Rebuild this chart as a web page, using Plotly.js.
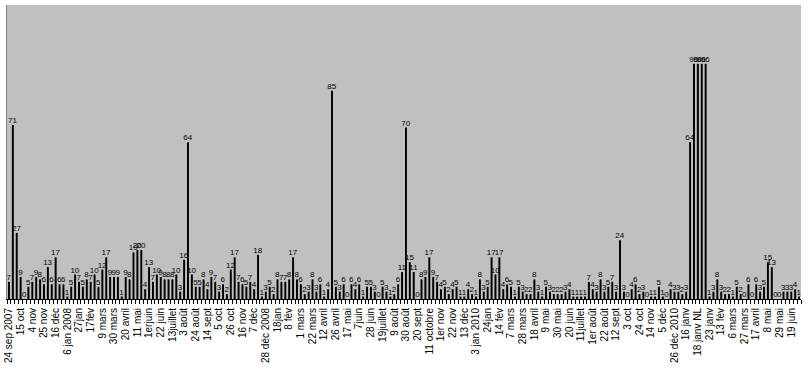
<!DOCTYPE html>
<html>
<head>
<meta charset="utf-8">
<script src="https://cdn.plot.ly/plotly-3.0.1.min.js"></script>
<style>html,body{margin:0;padding:0;background:#fff;}#chart{width:808px;height:380px;}</style>
</head>
<body>
<div id="chart"></div>
<script>
// Weekly counts (one entry per bar, left to right)
const values = [
  7, 71, 27, 9, 0, 5, 7, 9, 8, 6,
  13, 6, 17, 6, 6, 1, 5, 10, 7, 5,
  8, 7, 10, 5, 12, 17, 9, 9, 9, 1,
  9, 8, 19, 20, 20, 4, 13, 7, 10, 9,
  8, 8, 8, 10, 3, 16, 64, 10, 5, 5,
  8, 4, 9, 7, 3, 6, 2, 12, 17, 7,
  6, 5, 7, 4, 18, 1, 3, 5, 2, 8,
  7, 7, 8, 17, 8, 6, 2, 3, 8, 3,
  6, 1, 4, 85, 5, 3, 6, 0, 6, 4,
  6, 1, 5, 5, 3, 0, 5, 3, 1, 2,
  6, 11, 70, 15, 11, 0, 8, 9, 17, 9,
  7, 4, 5, 2, 4, 5, 1, 1, 4, 2,
  1, 8, 3, 5, 17, 10, 17, 4, 6, 5,
  1, 5, 3, 2, 2, 8, 3, 1, 5, 3,
  2, 2, 2, 3, 4, 1, 1, 1, 1, 7,
  4, 3, 8, 3, 5, 7, 3, 24, 3, 0,
  4, 6, 2, 3, 0, 1, 1, 5, 1, 0,
  4, 3, 3, 2, 3, 64, 96, 96, 96, 96,
  1, 3, 8, 3, 2, 2, 1, 5, 2, 0,
  6, 0, 6, 3, 5, 15, 13, 0, 0, 3,
  3, 3, 4, 1
];

// Category labels shown on the axis (Excel shows every 3rd category)
const tickLabels = [
  "24 sep 2007", "15 oct", "4 nov", "25 nov", "16 déc", "6 jan 2008", "27jan", "17fév",
  "9 mars", "30 mars", "20 avril", "11 mai", "1erjuin", "22 juin", "13juillet", "3 août",
  "24 août", "14 sept", "5 oct", "26 oct", "16 nov", "7 déc", "28 déc 2008", "18jan",
  "8 fév", "1 mars", "22 mars", "12 avril", "26 avril", "17 mai", "7juin", "28 juin",
  "19juillet", "9 août", "30 août", "20 sept", "11 octobre", "1er nov", "22 nov", "13 déc",
  "3 jan 2010", "24jan", "14 fév", "7 mars", "28 mars", "18 avril", "9 mai", "30 mai",
  "20 juin", "11juillet", "1er août", "22 août", "12 sept", "3 oct", "24 oct", "14 nov",
  "5 déc", "26 déc 2010", "16 janv", "18 janv NL", "23 janv", "13 fév", "6 mars", "27 mars",
  "17 avril", "8 mai", "29 mai", "19 juin"
];
const labelInterval = 3;

const xIdx = values.map((_, i) => i);
const tickPos = tickLabels.map((_, k) => k * labelInterval);

const trace = {
  type: 'bar',
  x: xIdx,
  y: values,
  marker: {color: '#000000', line: {width: 0}},
  text: values.map(String),
  textposition: 'outside',
  constraintext: 'none',
  cliponaxis: false,
  textfont: {family: 'Liberation Sans, Arial, sans-serif', size: 8, color: '#000000'},
  hoverinfo: 'none'
};

const layout = {
  width: 808,
  height: 380,
  margin: {l: 7, r: 7, t: 5, b: 81, pad: 0},
  paper_bgcolor: '#ffffff',
  plot_bgcolor: '#c0c0c0',
  bargap: 0.5,
  showlegend: false,
  xaxis: {
    range: [-0.5, values.length - 0.5],
    tickmode: 'array',
    tickvals: tickPos,
    ticktext: tickLabels,
    tickangle: -90,
    tickfont: {family: 'Liberation Sans, Arial, sans-serif', size: 10, color: '#000000'},
    ticks: 'outside',
    ticklen: 4,
    tickcolor: 'rgba(0,0,0,0)',
    showline: true,
    linecolor: '#000000',
    linewidth: 1,
    showgrid: false,
    zeroline: false,
    minor: {tickmode: 'linear', tick0: 0.5, dtick: 1, ticks: 'outside', ticklen: 4, tickcolor: '#000000', tickwidth: 1, showgrid: false}
  },
  yaxis: {
    range: [0, 120],
    showticklabels: false,
    ticks: '',
    showgrid: false,
    zeroline: false,
    showline: true,
    linecolor: '#808080',
    linewidth: 1
  }
};

Plotly.newPlot('chart', [trace], layout, {displayModeBar: false, staticPlot: true});
</script>
</body>
</html>
